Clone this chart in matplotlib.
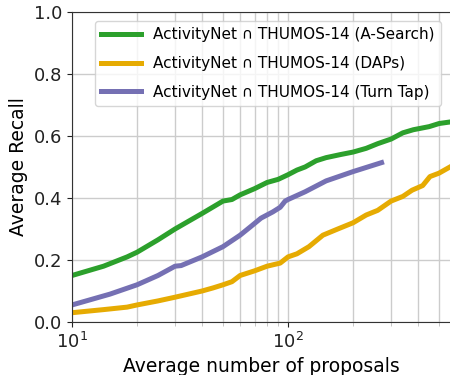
import matplotlib
matplotlib.use("Agg")
import matplotlib.pyplot as plt

# A-Search
asearch_x = [10, 14, 18, 20, 25, 30, 40, 50, 55, 60, 70, 80, 90, 100, 110, 120, 135, 150, 175, 200, 230, 260, 300, 340, 380, 450, 500, 562]
asearch_y = [0.15, 0.18, 0.21, 0.225, 0.265, 0.30, 0.35, 0.39, 0.395, 0.41, 0.43, 0.45, 0.46, 0.475, 0.49, 0.50, 0.52, 0.53, 0.54, 0.548, 0.56, 0.575, 0.59, 0.61, 0.62, 0.63, 0.64, 0.645]

# DAPs
daps_x = [10, 14, 18, 20, 25, 30, 40, 45, 50, 55, 60, 70, 80, 92, 100, 110, 125, 145, 170, 200, 230, 260, 300, 340, 375, 420, 454, 500, 562]
daps_y = [0.03, 0.04, 0.048, 0.055, 0.068, 0.08, 0.10, 0.11, 0.12, 0.13, 0.15, 0.165, 0.18, 0.19, 0.21, 0.22, 0.243, 0.28, 0.30, 0.32, 0.345, 0.36, 0.39, 0.405, 0.425, 0.44, 0.469, 0.48, 0.50]

# Turn Tap
turntap_x = [10, 15, 20, 25, 30, 32, 40, 50, 60, 67, 75, 85, 92, 97, 100, 120, 150, 200, 271]
turntap_y = [0.055, 0.09, 0.12, 0.15, 0.18, 0.182, 0.21, 0.243, 0.28, 0.307, 0.335, 0.355, 0.37, 0.39, 0.395, 0.42, 0.455, 0.485, 0.514]

labels = ["ActivityNet \u2229 THUMOS-14 (A-Search)",
          "ActivityNet \u2229 THUMOS-14 (DAPs)",
          "ActivityNet \u2229 THUMOS-14 (Turn Tap)"]

fig = plt.figure(figsize=(4.5, 3.75), dpi=100)
ax = fig.add_axes([0.16, 0.1413, 0.84, 0.827])

ax.plot(asearch_x, asearch_y, color="#2ca02c", lw=3.6, label=labels[0])
ax.plot(daps_x, daps_y, color="#e6ab02", lw=3.6, label=labels[1])
ax.plot(turntap_x, turntap_y, color="#7570b3", lw=3.6, label=labels[2])

ax.set_xscale("log")
ax.set_xlim(10, 562)
ax.set_ylim(0, 1.0)
ax.set_yticks([0.0, 0.2, 0.4, 0.6, 0.8, 1.0])
ax.grid(True, which="both", color="#cccccc", lw=1)
ax.set_axisbelow(True)
ax.spines["right"].set_visible(False)
for s in ["left", "bottom", "top"]:
    ax.spines[s].set_color("#333333")
ax.tick_params(labelsize=13, colors="#222222")
ax.tick_params(which="minor", length=3, color="#bbbbbb")

ax.set_xlabel("Average number of proposals", fontsize=13.5)
ax.set_ylabel("Average Recall", fontsize=13.5)
ax.legend(loc="upper right", fontsize=11, handlelength=2.6, borderaxespad=0.6, labelspacing=0.9)

fig.savefig("out.png", dpi=100)
